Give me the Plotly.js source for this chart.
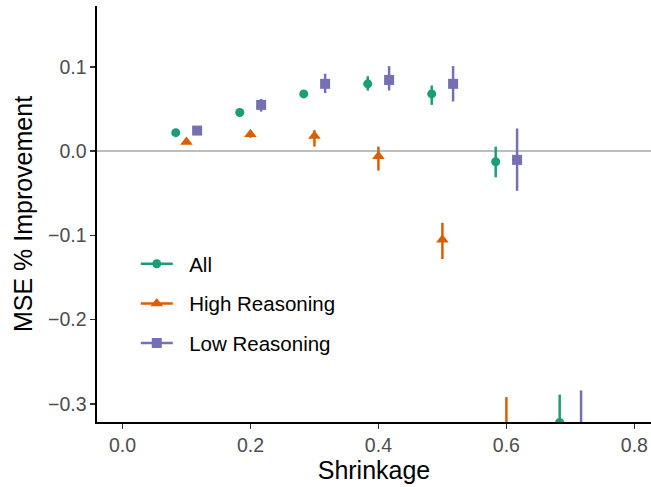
<!DOCTYPE html>
<html>
<head>
<meta charset="utf-8">
<script src="https://cdn.plot.ly/plotly-3.0.1.min.js"></script>
<style>html,body{margin:0;padding:0;background:#fff;}#chart{width:651px;height:487px;}</style>
</head>
<body>
<div id="chart"></div>
<script>
// Shrinkage levels (x)
const shrinkage = [0.1, 0.2, 0.3, 0.4, 0.5, 0.6, 0.7];
const seriesNames = ["All", "High Reasoning", "Low Reasoning"];

// MSE % Improvement point estimates and intervals
const allMSE = [0.022, 0.046, 0.068, 0.080, 0.068, -0.0125, -0.322];
const allLo  = [0.020, 0.044, 0.065, 0.072, 0.055, -0.031, -0.355];
const allHi  = [0.024, 0.048, 0.071, 0.089, 0.078, 0.0055, -0.289];

const highMSE = [0.011, 0.020, 0.018, -0.006, -0.105, -0.360, null];
const highLo  = [0.009, 0.016, 0.0055, -0.023, -0.128, -0.430, null];
const highHi  = [0.013, 0.024, 0.025, 0.0055, -0.085, -0.292, null];

const lowMSE = [0.0245, 0.055, 0.080, 0.0846, 0.080, -0.0103, -0.345];
const lowLo  = [0.022, 0.047, 0.069, 0.072, 0.059, -0.047, -0.406];
const lowHi  = [0.027, 0.062, 0.092, 0.101, 0.101, 0.027, -0.284];

const colors = ["#1B9E77", "#D95F02", "#7570B3"];
const symbols = ["circle", "triangle-up", "square"];
const sizes = [9, 11, 10];
const dodge = [-0.0167, 0, 0.0167];
const vals = [[allMSE, allLo, allHi], [highMSE, highLo, highHi], [lowMSE, lowLo, lowHi]];

const traces = [];
vals.forEach(function (v, i) {
  const y = v[0], lo = v[1], hi = v[2];
  traces.push({
    type: "scatter", mode: "markers", showlegend: false, cliponaxis: true,
    x: shrinkage.map(function (s) { return s + dodge[i]; }),
    y: y,
    marker: {color: colors[i], symbol: symbols[i], size: sizes[i], line: {width: 0}},
    error_y: {
      type: "data", symmetric: false,
      array: y.map(function (d, k) { return d === null ? null : hi[k] - d; }),
      arrayminus: y.map(function (d, k) { return d === null ? null : d - lo[k]; }),
      width: 0, thickness: 2.5, color: colors[i]
    },
    hoverinfo: "x+y"
  });
});
seriesNames.forEach(function (n, i) {
  traces.push({
    type: "scatter", mode: "lines+markers", name: "\u00A0\u00A0" + n, legendgroup: n,
    x: [null], y: [null],
    line: {color: colors[i], width: 2.5},
    marker: {color: colors[i], symbol: symbols[i], size: sizes[i], line: {width: 0}}
  });
});

const tickFont = {family: "Liberation Sans, Arial, sans-serif", size: 19.5, color: "#4D4D4D"};
const titleFont = {family: "Liberation Sans, Arial, sans-serif", size: 25, color: "#000000"};

const layout = {
  width: 651, height: 487,
  margin: {l: 97, r: 0, t: 6, b: 65, pad: 0},
  paper_bgcolor: "#ffffff", plot_bgcolor: "#ffffff",
  font: {family: "Liberation Sans, Arial, sans-serif"},
  showlegend: true,
  legend: {
    x: 0.07, y: 0.428, xanchor: "left", yanchor: "top",
    font: {family: "Liberation Sans, Arial, sans-serif", size: 20.5, color: "#000000"},
    bgcolor: "rgba(0,0,0,0)", traceorder: "grouped", tracegroupgap: 10, itemwidth: 32
  },
  xaxis: {
    range: [-0.0398, 0.826], showgrid: false, zeroline: false,
    showline: true, linecolor: "#000000", linewidth: 1.6,
    ticks: "outside", ticklen: 5, tickwidth: 1.5, tickcolor: "#333333",
    tickvals: [0, 0.2, 0.4, 0.6, 0.8], tickformat: ".1f", tickfont: tickFont,
    title: {text: "Shrinkage", font: titleFont, standoff: 5}
  },
  yaxis: {
    range: [-0.3215, 0.1724], showgrid: false,
    zeroline: true, zerolinecolor: "#BEBEBE", zerolinewidth: 2.5,
    showline: true, linecolor: "#000000", linewidth: 1.6,
    ticks: "outside", ticklen: 5, tickwidth: 1.5, tickcolor: "#333333",
    tickvals: [-0.3, -0.2, -0.1, 0, 0.1], tickformat: ".1f", tickfont: tickFont,
    title: {text: "MSE % Improvement", font: titleFont, standoff: 8}
  }
};

Plotly.newPlot("chart", traces, layout, {displayModeBar: false, staticPlot: true});
</script>
</body>
</html>
